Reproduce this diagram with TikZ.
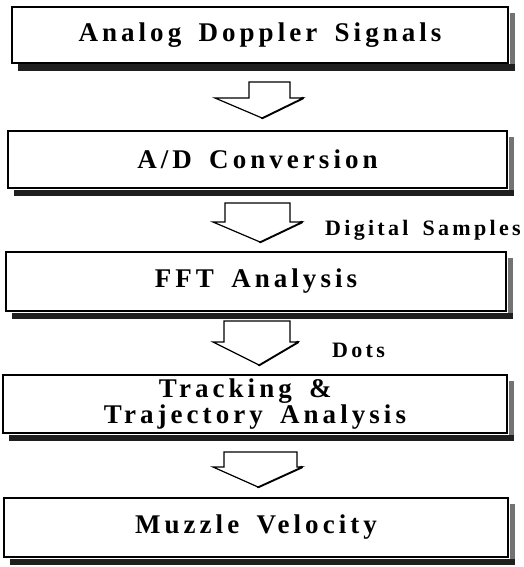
\documentclass[tikz,border=0pt]{standalone}
\usepackage{fontspec}
\setmainfont{Liberation Serif}[BoldFont={* Bold}]
\newfontfamily\boxfont{Liberation Serif Bold}[LetterSpace=15,WordSpace=1.6]
\newfontfamily\labfont{Liberation Serif Bold}[LetterSpace=15,WordSpace=1.6]
\begin{document}
\begin{tikzpicture}[x=1pt,y=-1pt,
  box/.style={draw=black, line width=1.5pt, fill=white, inner sep=0pt,
    align=center, font=\boxfont\fontsize{27}{22}\selectfont},
  shadowbottom/.style={fill=black!88},
  shadowright/.style={fill=black!55},
  lab/.style={inner sep=0pt, anchor=base west, font=\labfont\fontsize{22}{24}\selectfont},
  blockarrow/.style={draw=black, line width=1.2pt, fill=white, line join=miter},
  arrshadow/.style={draw=black, line width=2.6pt, line cap=round}]
\useasboundingbox (0,0) rectangle (523,567);
\node[box, minimum width=496pt, minimum height=56pt] (b1) at (260,35) {Analog Doppler Signals};
\node[box, minimum width=499pt, minimum height=57pt] (b2) at (257.5,159.5) {A/D Conversion};
\node[box, minimum width=500pt, minimum height=59pt] (b3) at (256,281.5) {FFT Analysis};
\node[box, minimum width=504pt, minimum height=58pt, align=left] (b4) at (255,404)
  {\hspace*{55pt}Tracking \&\\Trajectory Analysis};
\node[box, minimum width=504pt, minimum height=59pt] (b5) at (256,527.5) {Muzzle Velocity};
\foreach \b in {b1,b2,b3,b4,b5}{
  \fill[shadowbottom] ([shift={(7pt,-0.75pt)}]\b.south west) rectangle ([shift={(6pt,-7pt)}]\b.south east);
  \fill[shadowright] ([shift={(0.75pt,-7pt)}]\b.north east) rectangle ([shift={(6pt,-0.75pt)}]\b.south east);
}
% block arrows
\foreach \sl/\sr/\top/\hy/\hl/\hr/\tx/\ty in {
  249/290/82/98/215/303/262/118,
  225/290/203/222/213/302/260/242,
  224/290/321/342/213/298/259/365,
  224/297/452/467/213/302/258/487}{
  \draw[arrshadow] (\hr,\hy) -- (\tx,\ty);
  \draw[blockarrow] (\sl,\top) -- (\sr,\top) -- (\sr,\hy) -- (\hr,\hy) -- (\tx,\ty) -- (\hl,\hy) -- (\sl,\hy) -- cycle;
}
\node[lab] (l1) at (325,235) {Digital Samples};
\node[lab] (l2) at (332,357) {Dots};
\end{tikzpicture}
\end{document}
